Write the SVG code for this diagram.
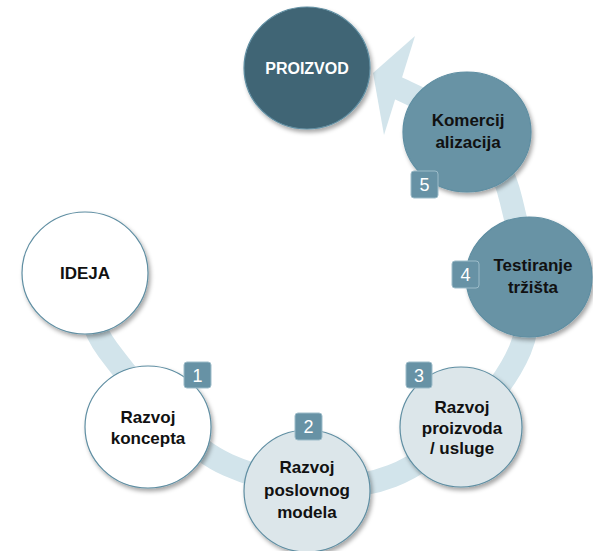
<svg xmlns="http://www.w3.org/2000/svg" width="593" height="551" viewBox="0 0 593 551">
<defs>
<filter id="sh" x="-20%" y="-20%" width="150%" height="150%">
<feDropShadow dx="2" dy="3" stdDeviation="2.2" flood-color="#000" flood-opacity="0.35"/>
</filter>
<style>
.band{fill:none;stroke:#d2e4eb;stroke-width:23}
.head{fill:#d2e4eb}
.c{stroke:#5f8ea2;stroke-width:1.2;filter:url(#sh)}
.white{fill:#ffffff}
.light{fill:#dce6ea}
.mid{fill:#6793a5}
.dark{fill:#416575}
.t{font-family:"Liberation Sans",Arial,sans-serif;font-weight:bold;font-size:17px;fill:#111;text-anchor:middle}
.tw{font-family:"Liberation Sans",Arial,sans-serif;font-weight:bold;font-size:16px;fill:#fff;text-anchor:middle}
.b{fill:#6792a5;stroke:#9dbcc9;stroke-width:1}
.bn{font-family:"Liberation Sans",Arial,sans-serif;font-size:18px;fill:#fff;text-anchor:middle}
</style>
</defs>
<g id="connectors">
<path class="band" d="M84,273 C88,286 84,318 108,350 C132,382 180.7,444 228,465 C275.3,486 343.3,495.2 392,476 C440.7,456.8 500.2,396 520,350 C539.8,304 519.7,237 511,200 C502.3,163 487.8,147.2 468,128 C448.2,108.8 404.7,92.2 392,85"/>
<polygon class="head" points="415,36 373,73 384,135"/>
</g>
<g id="proizvod">
<ellipse class="c dark" cx="307" cy="68" rx="63" ry="61"/>
<text class="tw" x="307" y="74">PROIZVOD</text>
</g>
<g id="ideja">
<ellipse class="c white" cx="85" cy="273" rx="63" ry="61"/>
<text class="t" x="85" y="279">IDEJA</text>
</g>
<g id="razvoj-koncepta">
<ellipse class="c white" cx="148" cy="427" rx="63" ry="61"/>
<text class="t" x="148" y="423">Razvoj</text>
<text class="t" x="148" y="444">koncepta</text>
</g>
<g id="razvoj-poslovnog-modela">
<ellipse class="c light" cx="307" cy="491" rx="63" ry="61"/>
<text class="t" x="307" y="473">Razvoj</text>
<text class="t" x="307" y="496">poslovnog</text>
<text class="t" x="307" y="518">modela</text>
</g>
<g id="razvoj-proizvoda">
<ellipse class="c light" cx="461" cy="427" rx="61" ry="60"/>
<text class="t" x="462" y="413">Razvoj</text>
<text class="t" x="462" y="434">proizvoda</text>
<text class="t" x="462" y="454">/ usluge</text>
</g>
<g id="testiranje-trzista">
<ellipse class="c mid" cx="529" cy="277" rx="63" ry="60"/>
<text class="t" x="533" y="271">Testiranje</text>
<text class="t" x="533" y="293">tržišta</text>
</g>
<g id="komercijalizacija">
<ellipse class="c mid" cx="467" cy="132" rx="64" ry="60"/>
<text class="t" x="468" y="126">Komercij</text>
<text class="t" x="468" y="148">alizacija</text>
</g>
<g id="badge-1">
<rect class="b" x="184" y="362" width="27" height="26" rx="3"/>
<text class="bn" x="197.5" y="382">1</text>
</g>
<g id="badge-2">
<rect class="b" x="295" y="413" width="27" height="27" rx="3"/>
<text class="bn" x="308.5" y="433">2</text>
</g>
<g id="badge-3">
<rect class="b" x="406" y="362" width="26" height="26" rx="3"/>
<text class="bn" x="419" y="382">3</text>
</g>
<g id="badge-4">
<rect class="b" x="452" y="261" width="27" height="27" rx="3"/>
<text class="bn" x="465.5" y="281">4</text>
</g>
<g id="badge-5">
<rect class="b" x="411" y="171" width="27" height="27" rx="3"/>
<text class="bn" x="424.5" y="191">5</text>
</g>
</svg>
